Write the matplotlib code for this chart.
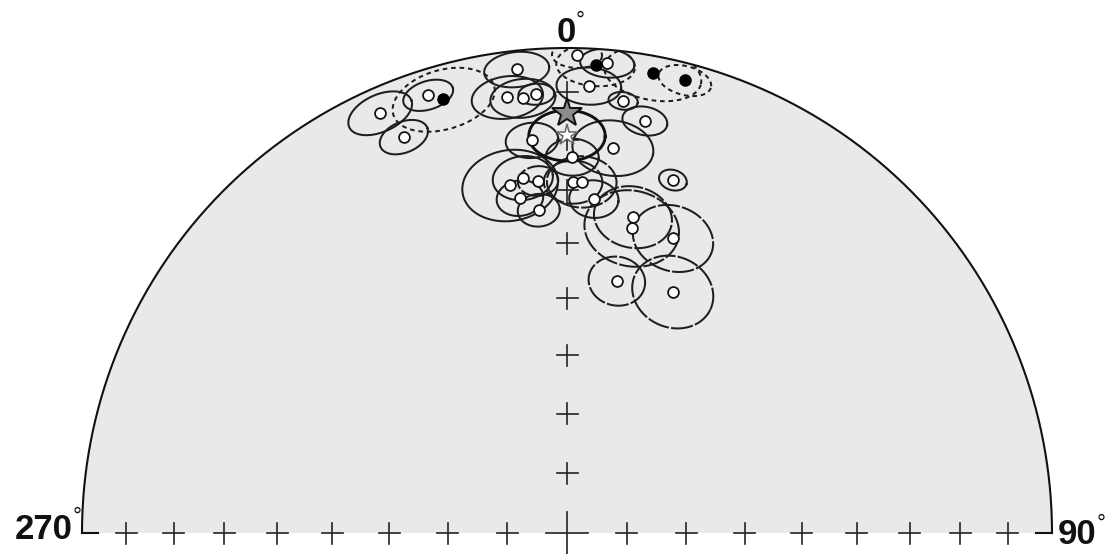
import numpy as np
import matplotlib
matplotlib.use('Agg')
import matplotlib.pyplot as plt
from matplotlib.patches import Circle, Polygon

# site directions: declination, inclination (neg = open symbol), a95, ellipse style
dec = [1.2, 3.5, 4.9, 10.6, 14.6, 353.8, 352.2, 354.2, 356.0, 2.8, 7.4, 10.7,
       336.0, 342.4, 344.1, 337.6, 354.9, 0.8, 6.8, 350.7, 352.9, 355.3, 352.0,
       355.0, 1.0, 2.4, 4.6, 11.8, 12.0, 16.7, 19.8, 11.2, 23.7]
inc = [-1.6, 3.7, -3.1, 4.0, 4.0, -4.3, -10.2, -10.8, -10.2, -8.5, -11.1, -14.6,
       -5.8, -5.9, 7.7, -12.7, -19.8, -23.5, -21.1, -28.1, -27.1, -28.0, -30.9,
       -33.6, -28.4, -28.3, -31.5, -33.8, -35.9, -25.0, -35.6, -46.0, -44.8]
a95 = [3.0, 4.8, 3.3, 6.0, 3.3, 4.0, 4.6, 4.2, 2.3, 4.1, 1.9, 3.0,
       4.2, 3.2, 6.6, 3.3, 3.6, 3.7, 5.6, 6.9, 4.3, 2.9, 3.4,
       3.1, 4.2, 5.0, 3.6, 5.8, 7.1, 2.0, 6.1, 4.4, 6.4]
style = ['dash', 'dash', 'solid', 'dash', 'dash', 'solid', 'solid', 'solid', 'solid', 'solid', 'solid', 'solid',
         'solid', 'solid', 'dash', 'solid', 'solid', 'solid', 'solid', 'solid', 'solid', 'long', 'solid',
         'solid', 'long', 'long', 'solid', 'long', 'long', 'solid', 'long', 'long', 'long']

# means (stars)
mean_dec = [0.0, 0.0]
mean_inc = [-14.5, -19.1]
mean_a95 = [0.0, 5.2]

tick_inc = [10, 20, 30, 40, 50, 60, 70, 80]

R2 = np.sqrt(2)


def proj(d, i):
    th = np.radians(90 - np.abs(np.asarray(i, float)))
    r = R2 * np.sin(th / 2)
    d = np.radians(np.asarray(d, float))
    return r * np.sin(d), r * np.cos(d)


def cone(d, i, a, n=240):
    d, i, a = np.radians(d), np.radians(abs(i)), np.radians(a)
    m = np.array([np.cos(i) * np.cos(d), np.cos(i) * np.sin(d), np.sin(i)])
    e1 = np.array([-np.sin(d), np.cos(d), 0.0])
    e2 = np.cross(m, e1)
    t = np.linspace(0, 2 * np.pi, n)
    v = np.cos(a) * m[:, None] + np.sin(a) * (np.cos(t) * e1[:, None] + np.sin(t) * e2[:, None])
    th = np.arccos(np.clip(v[2], -1, 1))
    r = R2 * np.sin(th / 2)
    az = np.arctan2(v[1], v[0])
    return r * np.sin(az), r * np.cos(az)


W, H, PX = 1111, 554, 485.0
cx, cy = 567, 533
fig = plt.figure(figsize=(W / 100, H / 100), dpi=100)
ax = fig.add_axes([0, 0, 1, 1])
ax.set_xlim(-cx / PX, (W - cx) / PX)
ax.set_ylim(-(H - cy) / PX, cy / PX)
ax.axis('off')

# hemisphere background
ang = np.linspace(0, np.pi, 400)
half = Polygon(np.column_stack([np.cos(ang), np.sin(ang)]), closed=True,
               facecolor='#e9e9e9', edgecolor='none', zorder=0)
ax.add_patch(half)
ax.plot(np.cos(ang), np.sin(ang), color='#111111', lw=1.5, zorder=5)
ax.plot([-1, -1 + 0.032], [0, 0], color='#111111', lw=1.5, zorder=5)
ax.plot([1 - 0.033, 1], [0, 0], color='#111111', lw=1.5, zorder=5)

clip = Circle((0, 0), 1.0, transform=ax.transData)

# crosses every 10 deg of inclination
hl = 10.5 / PX
for ti in tick_inc:
    r = R2 * np.sin(np.radians(90 - ti) / 2)
    for (x, y) in [(-r, 0), (r, 0), (0, r)]:
        ax.plot([x - hl, x + hl], [y, y], color='#222222', lw=1.2, zorder=1)
        ax.plot([x, x], [y - hl, y + hl], color='#222222', lw=1.2, zorder=1)
big = 21 / PX
ax.plot([-big, big], [0, 0], color='#222222', lw=1.2, zorder=1)
ax.plot([0, 0], [-big, big], color='#222222', lw=1.2, zorder=1)

# confidence circles
for d, i, a, s in zip(dec, inc, a95, style):
    ex, ey = cone(d, i, a)
    ln, = ax.plot(ex, ey, color='#1e1e1e', lw=1.45, zorder=2)
    if s == 'dash':
        ln.set_dashes((2.3, 1.9))
    elif s == 'long':
        ln.set_dashes((11, 1.1))
    ln.set_clip_path(clip)

for d, i, a in zip(mean_dec, mean_inc, mean_a95):
    if a > 0:
        ex, ey = cone(d, i, a)
        ln, = ax.plot(ex, ey, color='#111111', lw=2.1, zorder=2)
        ln.set_clip_path(clip)

# site directions
px, py = proj(dec, inc)
inc_arr = np.array(inc)
up = inc_arr < 0
ax.plot(px[up], py[up], 'o', ms=7.8, mfc='white', mec='#151515', mew=1.3, ls='none', zorder=4)
ax.plot(px[~up], py[~up], 'o', ms=8, mfc='black', mec='black', ls='none', zorder=4)

# mean directions
mx, my = proj(mean_dec, mean_inc)
ax.plot(mx[0], my[0], '*', ms=22, mfc='#8c8c8c', mec='#111111', mew=1.4, zorder=4)
ax.plot(mx[1], my[1], '*', ms=16, mfc='white', mec='#666666', mew=1.1, zorder=4)

# labels
fnt = dict(family='Liberation Sans', fontweight='bold', fontsize=25, color='#111111')
deg = dict(family='Liberation Sans', fontsize=16, color='#111111')
ax.text(-1 / PX, (cy - 42) / PX, '0', ha='center', va='baseline', **fnt)
ax.text(9 / PX, (cy - 11) / PX, '°', ha='left', va='top', **deg)
ax.text((73 - cx) / PX, (cy - 539) / PX, '270', ha='right', va='baseline', **fnt)
ax.text((73 - cx) / PX, (cy - 507) / PX, '°', ha='left', va='top', **deg)
ax.text((1058 - cx) / PX, (cy - 544) / PX, '90', ha='left', va='baseline', **fnt)
ax.text((1097 - cx) / PX, (cy - 514) / PX, '°', ha='left', va='top', **deg)

fig.savefig('out.png', dpi=100)
